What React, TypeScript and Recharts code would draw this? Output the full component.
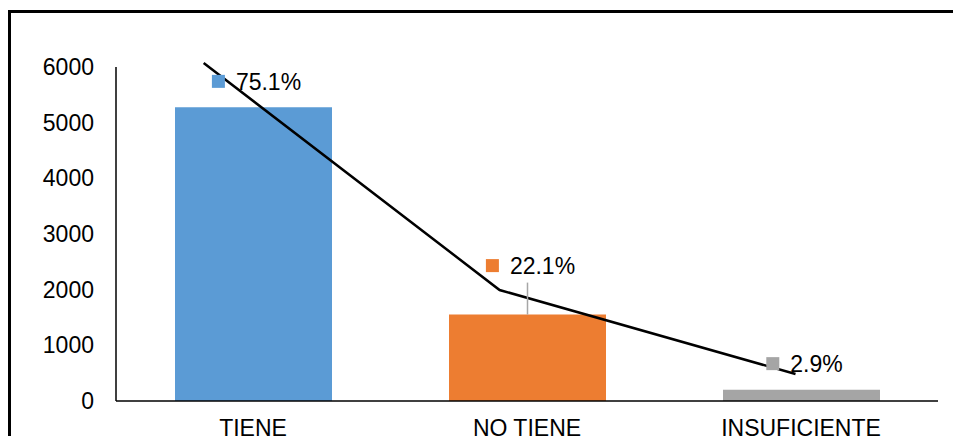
import {
  ComposedChart,
  Bar,
  Line,
  XAxis,
  YAxis,
  Cell,
  LabelList,
} from "recharts";

const categories = ["TIENE", "NO TIENE", "INSUFICIENTE"];
const counts = [5275, 1552, 204];
const shares = ["75.1%", "22.1%", "2.9%"];
const barColors = ["#5B9BD5", "#ED7D31", "#A5A5A5"];
const yTicks = [0, 1000, 2000, 3000, 4000, 5000, 6000];

// the black trend line does not sit on the category centres
const trendX = [0.32, 1.4, 2.48];
const trendY = [5965, 1959, 476];

const data = categories.map((name, i) => ({
  name,
  count: counts[i],
  share: shares[i],
}));

const trend = trendX.map((x, i) => ({ x, y: trendY[i] }));

const FONT = "'Liberation Sans', Arial, sans-serif";
const FS = 23;

// rough Arial width, enough to place the colour key in front of the text
function textWidth(s: string) {
  let w = 0;
  for (const ch of s) {
    if (ch === "%") w += 0.889;
    else if (ch === ".") w += 0.278;
    else w += 0.556;
  }
  return w * FS;
}

function ShareLabel(props: any) {
  const { x, y, width, value, index } = props;
  const i = typeof index === "number" ? index : shares.indexOf(value);
  const cx = x + width / 2;
  const lift = i === 1 ? 49 : 26;
  const yc = y - lift;
  const tc = cx + 15;
  const w = textWidth(String(value));
  const sq = 13;
  const sqX = tc - w / 2 - 24;
  return (
    <g>
      {i === 1 && (
        <line x1={cx} x2={cx} y1={yc + 17} y2={y} stroke="#A6A6A6" strokeWidth={1.5} />
      )}
      <rect x={sqX} y={yc - sq / 2} width={sq} height={sq} fill={barColors[i]} />
      <text
        x={tc}
        y={yc + 0.358 * FS}
        textAnchor="middle"
        fontSize={FS}
        fontFamily={FONT}
        fill="#000"
      >
        {value}
      </text>
    </g>
  );
}

export default function App() {
  return (
    <div>
      <style>{`body{overflow:hidden}`}</style>
      <div
        style={{
          marginTop: 2,
          borderTop: "3px solid #000",
          borderLeft: "3px solid #000",
          width: 950,
          height: 423,
          overflow: "hidden",
          background: "#fff",
        }}
      >
        <ComposedChart
          width={950}
          height={440}
          data={data}
          margin={{ top: 54, right: 23, bottom: 12, left: 45 }}
        >
          <XAxis
            dataKey="name"
            height={40}
            tickSize={0}
            tickMargin={19}
            axisLine={{ stroke: "#000", strokeWidth: 1.5 }}
            tick={{ fontSize: FS, fontFamily: FONT, fill: "#000" }}
            interval={0}
          />
          <XAxis xAxisId="line" type="number" dataKey="x" domain={[0, 3]} hide />
          <YAxis
            width={60}
            domain={[0, 6000]}
            ticks={yTicks}
            tickSize={0}
            tickMargin={22}
            axisLine={{ stroke: "#000", strokeWidth: 1.5 }}
            tick={{ fontSize: FS, fontFamily: FONT, fill: "#000" }}
          />
          <YAxis
            yAxisId="line"
            domain={[0, 6000]}
            padding={{ top: -6, bottom: 0 }}
            hide
          />
          <Bar dataKey="count" barSize={157} isAnimationActive={false}>
            {data.map((_, i) => (
              <Cell key={i} fill={barColors[i]} />
            ))}
            <LabelList dataKey="share" content={ShareLabel} />
          </Bar>
          <Line
            data={trend}
            xAxisId="line"
            yAxisId="line"
            dataKey="y"
            type="linear"
            stroke="#000"
            strokeWidth={2.5}
            dot={false}
            isAnimationActive={false}
          />
        </ComposedChart>
      </div>
    </div>
  );
}
